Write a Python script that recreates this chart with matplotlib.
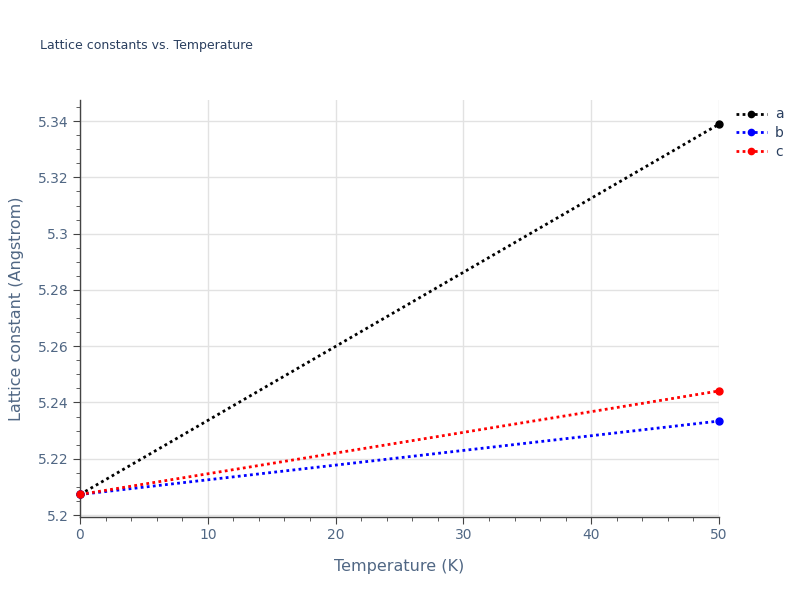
import matplotlib.pyplot as plt
from matplotlib.ticker import MultipleLocator, FuncFormatter

# lattice constants
temperature = [0, 50]
lat_a = [5.2073, 5.3389]
lat_b = [5.2073, 5.2334]
lat_c = [5.2073, 5.2441]
labels = ['a', 'b', 'c']
colors = ['black', 'blue', 'red']

fig = plt.figure(figsize=(8, 6), dpi=100)
ax = fig.add_axes([80 / 800, 1 - 517 / 600, 639 / 800, 417 / 600])

for vals, lab, col in zip([lat_a, lat_b, lat_c], labels, colors):
    ax.plot(temperature, vals, linestyle=(0, (1, 1.2)), linewidth=2, color=col,
            marker='o', markersize=5, label=lab, clip_on=False, zorder=3)

ax.set_xlim(0, 50)
ax.set_ylim(5.1993, 5.3475)

ax.xaxis.set_major_locator(MultipleLocator(10))
ax.xaxis.set_minor_locator(MultipleLocator(2))
ax.yaxis.set_major_locator(MultipleLocator(0.02))
ax.yaxis.set_minor_locator(MultipleLocator(0.005))
ax.yaxis.set_major_formatter(FuncFormatter(lambda v, p: ('%.2f' % v).rstrip('0').rstrip('.')))

ax.grid(True, which='major', color='#e2e2e2', linewidth=1)
ax.set_axisbelow(True)
for s in ['top', 'right']:
    ax.spines[s].set_visible(False)
for s in ['left', 'bottom']:
    ax.spines[s].set_color('#444444')
    ax.spines[s].set_linewidth(1)

ax.tick_params(which='major', length=5, color='#444444', labelcolor='#506784', labelsize=10, pad=3)
ax.tick_params(which='minor', length=3, color='#444444')

ax.set_xlabel('Temperature (K)', fontsize=11.5, color='#506784', labelpad=12)
ax.set_ylabel('Lattice constant (Angstrom)', fontsize=11.5, color='#506784', labelpad=10)

fig.text(40 / 800, 1 - 46 / 600, 'Lattice constants vs. Temperature', fontsize=9,
         color='#2a3f5f', va='center')

leg = ax.legend(loc='upper left', bbox_to_anchor=(1.007, 1.012), frameon=False,
                fontsize=10, handlelength=2.2, labelspacing=0.35, handletextpad=0.6,
                markerscale=0.9)
for t in leg.get_texts():
    t.set_color('#2a3f5f')

fig.savefig('out.png', dpi=100)
